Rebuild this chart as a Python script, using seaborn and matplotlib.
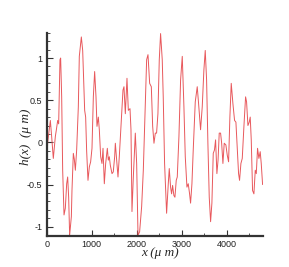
import matplotlib
matplotlib.use("Agg")
import matplotlib.pyplot as plt
from matplotlib.ticker import MultipleLocator
import seaborn as sns
import pandas as pd

x_um = [0, 22, 59, 81, 110, 147, 192, 215, 244, 266, 295, 310, 333, 355, 385, 414,
        444, 466, 488, 510, 548, 562, 592, 614, 637, 666, 703, 725, 770, 800, 822,
        844, 866, 888, 918, 948, 977, 1007, 1037, 1066, 1096, 1118, 1148, 1170, 1200,
        1229, 1252, 1281, 1311, 1348, 1370, 1392, 1414, 1452, 1480, 1511, 1526, 1555,
        1585, 1614, 1652, 1696, 1718, 1748, 1785, 1815, 1852, 1874, 1896, 1926, 1970,
        2000, 2030, 2066, 2111, 2148, 2185, 2222, 2252, 2289, 2326, 2356, 2385, 2415,
        2443, 2473, 2503, 2532, 2569, 2591, 2621, 2666, 2703, 2725, 2754, 2777, 2799,
        2828, 2851, 2880, 2903, 2940, 2977, 3014, 3051, 3081, 3118, 3147, 3177, 3199,
        3229, 3258, 3303, 3347, 3377, 3421, 3458, 3495, 3525, 3555, 3584, 3614, 3644,
        3673, 3703, 3730, 3755, 3784, 3810, 3836, 3866, 3890, 3918, 3947, 3984, 4014,
        4044, 4073, 4103, 4140, 4177, 4207, 4236, 4266, 4288, 4318, 4348, 4385, 4422,
        4444, 4474, 4503, 4525, 4548, 4577, 4607, 4637, 4660, 4688, 4718, 4747, 4770,
        4800]
h_um = [-0.25, 0.0, 0.16, 0.26, 0.07, -0.19, 0.07, 0.15, 0.26, 0.22, 0.98, 1.0,
        0.54, -0.33, -0.86, -0.78, -0.49, -0.41, -0.65, -1.10, -0.88, -0.57, -0.13,
        -0.20, -0.33, -0.09, 0.42, 1.02, 1.25, 1.09, 0.74, 0.38, 0.30, -0.10, -0.45,
        -0.29, -0.23, -0.07, 0.54, 0.84, 0.54, 0.19, 0.30, 0.15, -0.17, -0.25, -0.07,
        -0.49, -0.25, -0.07, -0.21, -0.17, -0.27, -0.37, -0.35, -0.17, -0.01, -0.21,
        -0.41, -0.17, 0.19, 0.62, 0.66, 0.34, 0.76, 0.38, 0.40, 0.15, -0.82, -0.41,
        0.11, -0.25, -1.10, -1.06, -0.76, -0.33, 0.34, 0.98, 1.04, 0.70, 0.66, 0.19,
        -0.01, 0.11, 0.11, 0.34, 0.98, 1.29, 0.98, 0.54, -0.25, -0.84, -0.49, -0.31,
        -0.53, -0.61, -0.51, -0.63, -0.65, -0.45, -0.41, 0.07, 0.74, 1.02, 0.42, -0.17,
        -0.53, -0.49, -0.61, -0.72, -0.49, -0.09, 0.48, 0.66, 0.46, 0.15, 0.42, 0.86,
        1.09, 0.74, -0.01, -0.65, -0.94, -0.72, -0.13, -0.09, 0.03, -0.37, -0.21, 0.11,
        0.11, -0.01, -0.25, -0.01, -0.03, -0.15, -0.23, 0.30, 0.70, 0.46, 0.26, 0.24,
        -0.05, -0.37, -0.45, -0.25, -0.19, 0.19, 0.54, 0.48, 0.20, 0.24, 0.30, 0.03,
        -0.57, -0.61, -0.33, -0.37, -0.07, -0.19, -0.11, -0.25, -0.50]
x_ticks = [0, 1000, 2000, 3000, 4000]
y_ticks = [-1, -0.5, 0, 0.5, 1]
y_tick_labels = ["-1", "-0.5", "0", "0.5", "1"]

sns.set_style("ticks")
plt.rcParams["font.family"] = ["Liberation Sans", "DejaVu Sans"]

df = pd.DataFrame({"x": x_um, "h": h_um})
fig = plt.figure(figsize=(2.89, 2.67), dpi=100)
ax = fig.add_axes([0.1616, 0.116, 0.747, 0.7614])
sns.lineplot(data=df, x="x", y="h", ax=ax, color="#e8585c", linewidth=0.7,
             sort=False, estimator=None)

ax.set_xlim(0, 4800)
ax.set_ylim(-1.11, 1.30)
ax.set_xticks(x_ticks)
ax.set_xticklabels([str(t) for t in x_ticks])
ax.set_yticks(y_ticks)
ax.set_yticklabels(y_tick_labels)
ax.xaxis.set_minor_locator(MultipleLocator(500))
ax.yaxis.set_minor_locator(MultipleLocator(0.1))
ax.tick_params(which="major", direction="in", length=4, width=0.8, color="#333333",
               labelsize=6.5, pad=3, labelcolor="#222222")
ax.tick_params(which="minor", direction="in", length=2, width=0.6, color="#333333")
for s in ["top", "right"]:
    ax.spines[s].set_visible(False)
for s in ["left", "bottom"]:
    ax.spines[s].set_linewidth(1.6)
    ax.spines[s].set_color("#333333")

ax.set_xlabel("x (μ m)", fontsize=9.5, fontstyle="italic",
              family=["Liberation Serif", "DejaVu Serif"])
ax.set_ylabel("h(x)  (μ m)", fontsize=9.5, fontstyle="italic",
              family=["Liberation Serif", "DejaVu Serif"])
ax.xaxis.set_label_coords(0.524, -0.055)
ax.yaxis.set_label_coords(-0.068, 0.49)

fig.savefig("out.png", dpi=100)
